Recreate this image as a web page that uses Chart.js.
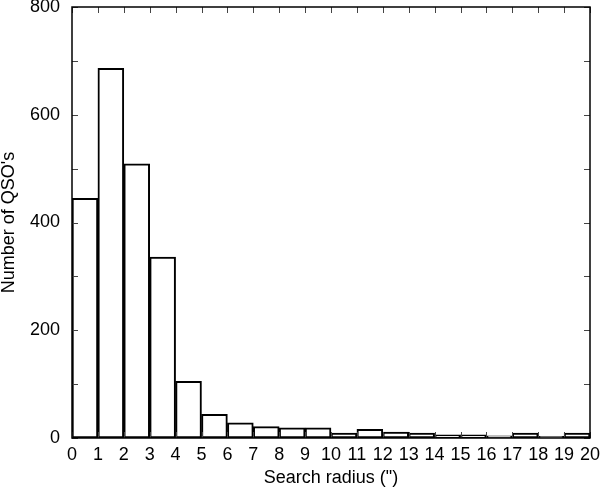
<!DOCTYPE html>
<html>
<head>
<meta charset="utf-8">
<script src="https://cdn.jsdelivr.net/npm/chart.js@4"></script>
<style>
    html, body { margin: 0; padding: 0; background: #fff; }
    #wrap { width: 600px; height: 489px; }
</style>
</head>
<body>
<div id="wrap"><canvas id="hist"></canvas></div>
<script>
// Histogram bins (search radius, arcsec) and counts
const binStarts = [0, 1, 2, 3, 4, 5, 6, 7, 8, 9, 10, 11, 12, 13, 14, 15, 16, 17, 18, 19];
const counts = [445, 686, 509, 336, 105, 44, 28, 21, 19, 19, 9, 16, 11, 9, 6, 6, 4, 9, 3, 9];
const xTicks = [0, 1, 2, 3, 4, 5, 6, 7, 8, 9, 10, 11, 12, 13, 14, 15, 16, 17, 18, 19, 20];
const yMajor = [0, 200, 400, 600, 800];
const yMinor = [100, 300, 500, 700];

const FONT = { family: '"Liberation Sans", Arial, Helvetica, sans-serif', size: 18 };

// inward tick marks on all four sides, like the original plot
const frameTicks = {
    id: 'frameTicks',
    afterDraw(chart) {
        const { ctx, chartArea: a, scales: { x, y } } = chart;
        ctx.save();
        ctx.strokeStyle = '#444';
        ctx.lineWidth = 1;
        ctx.beginPath();
        xTicks.forEach(v => {
            const px = Math.round(x.getPixelForValue(v)) + 0.5;
            ctx.moveTo(px, a.bottom); ctx.lineTo(px, a.bottom - 6);
            ctx.moveTo(px, a.top); ctx.lineTo(px, a.top + 6);
        });
        yMajor.concat(yMinor).forEach(v => {
            const py = Math.round(y.getPixelForValue(v)) + 0.5;
            ctx.moveTo(a.left, py); ctx.lineTo(a.left + 6, py);
            ctx.moveTo(a.right, py); ctx.lineTo(a.right - 6, py);
        });
        ctx.stroke();
        // frame
        ctx.strokeStyle = '#000';
        ctx.lineWidth = 1.5;
        ctx.strokeRect(a.left, a.top, a.right - a.left, a.bottom - a.top);
        ctx.restore();
    }
};

new Chart(document.getElementById('hist'), {
    type: 'bar',
    data: {
        datasets: [{
            data: binStarts.map((b, i) => ({ x: b + 0.5, y: counts[i] })),
            backgroundColor: '#fff',
            borderColor: '#000',
            borderWidth: 2,
            borderSkipped: false,
            barPercentage: 1,
            categoryPercentage: 1
        }]
    },
    options: {
        responsive: true,
        maintainAspectRatio: false,
        animation: false,
        layout: { padding: { top: 7, right: 10, left: 0, bottom: 0 } },
        plugins: { legend: { display: false }, tooltip: { enabled: false } },
        scales: {
            x: {
                type: 'linear',
                min: 0,
                max: 20,
                offset: false,
                afterBuildTicks: s => { s.ticks = xTicks.map(v => ({ value: v })); },
                afterFit: s => { s.height = 51; s.paddingLeft = 0; s.paddingRight = 0; },
                grid: { display: false, drawTicks: false },
                border: { display: false },
                ticks: { color: '#000', font: FONT, padding: 6, maxRotation: 0, autoSkip: false },
                title: { display: true, text: 'Search radius (")', color: '#000', font: FONT, padding: { top: 6, bottom: 0 } }
            },
            y: {
                min: 0,
                max: 800,
                afterBuildTicks: s => { s.ticks = yMajor.map(v => ({ value: v })); },
                afterFit: s => { s.width = 72; s.paddingTop = 0; s.paddingBottom = 0; },
                grid: { display: false, drawTicks: false },
                border: { display: false },
                ticks: { color: '#000', font: FONT, padding: 12 },
                title: { display: true, text: "Number of QSO's", color: '#000', font: { ...FONT, lineHeight: 1 }, padding: { top: 0, bottom: 0 } }
            }
        }
    },
    plugins: [frameTicks]
});
</script>
</body>
</html>
